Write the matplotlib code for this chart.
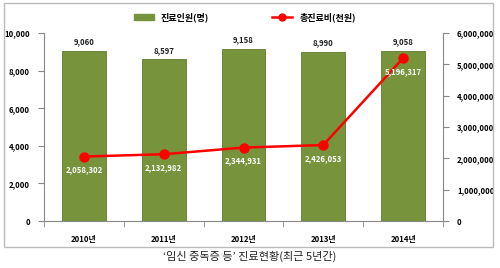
import matplotlib.pyplot as plt
from matplotlib.patches import Rectangle
from matplotlib.lines import Line2D
from matplotlib.ticker import FuncFormatter

plt.rcParams['font.family'] = ['Noto Sans CJK KR', 'DejaVu Sans']

years = ['2010년', '2011년', '2012년', '2013년', '2014년']
patients = [9060, 8597, 9158, 8990, 9058]
costs = [2058302, 2132982, 2344931, 2426053, 5196317]

bar_color = '#77933C'
line_color = '#FF0000'
fs = 5.6

fig = plt.figure(figsize=(5, 2.68), dpi=100)
ax = fig.add_axes([0.088, 0.175, 0.798, 0.702])

x = list(range(len(years)))
ax.bar(x, patients, width=0.55, color=bar_color, edgecolor='#5E7A2A', linewidth=0.6, zorder=2)
for xi, v in zip(x, patients):
    ax.text(xi, v + 250, f'{v:,}', ha='center', va='bottom', fontsize=fs, fontweight='bold', color='#222222')

ax.set_xlim(-0.5, 4.5)
ax.set_ylim(0, 10000)
ax.set_yticks(range(0, 10001, 2000))
ax.yaxis.set_major_formatter(FuncFormatter(lambda v, p: f'{int(v):,}'))
ax.set_xticks(x)
ax.set_xticklabels(years)
ax.set_xticks([i - 0.5 for i in range(6)], minor=True)
ax.tick_params(axis='x', which='major', length=0, pad=10, labelsize=fs)
ax.tick_params(axis='x', which='minor', length=4, color='#888888')
ax.tick_params(axis='y', labelsize=fs, length=4, color='#888888', pad=6)
for lab in ax.get_xticklabels() + ax.get_yticklabels():
    lab.set_fontweight('bold')
for s in ['top', 'right']:
    ax.spines[s].set_visible(False)
ax.spines['left'].set_color('#888888')
ax.spines['bottom'].set_color('#888888')

ax2 = ax.twinx()
ax2.plot(x, costs, color=line_color, linewidth=1.8, marker='o', markersize=6.5, zorder=3)
for xi, v in zip(x, costs):
    ax2.text(xi, v - 280000, f'{v:,}', ha='center', va='top', fontsize=fs, fontweight='bold', color='white')
ax2.set_ylim(0, 6000000)
ax2.set_yticks(range(0, 6000001, 1000000))
ax2.yaxis.set_major_formatter(FuncFormatter(lambda v, p: f'{int(v):,}'))
ax2.tick_params(axis='y', labelsize=fs, length=4, color='#888888', pad=6)
for lab in ax2.get_yticklabels():
    lab.set_fontweight('bold')
for s in ['top', 'left', 'bottom']:
    ax2.spines[s].set_visible(False)
ax2.spines['right'].set_color('#888888')

# legend
h1 = Rectangle((0, 0), 1, 1, color=bar_color)
h2 = Line2D([0], [0], color=line_color, linewidth=1.8, marker='o', markersize=5)
fig.legend([h1, h2], ['진료인원(명)', '총진료비(천원)'], loc='center', bbox_to_anchor=(0.49, 0.935),
           ncol=2, frameon=False, columnspacing=7, handlelength=2.2,
           prop={'weight': 'bold', 'size': 6.5})

# outer border
fig.patches.append(Rectangle((0.008, 0.079), 0.978, 0.91, transform=fig.transFigure,
                             fill=False, edgecolor='#BBBBBB', linewidth=1))

fig.text(0.5, 0.045, "‘임신 중독증 등’ 진료현황(최근 5년간)", ha='center', va='center', fontsize=8, color='#222222')

fig.savefig('out.png', dpi=100)
